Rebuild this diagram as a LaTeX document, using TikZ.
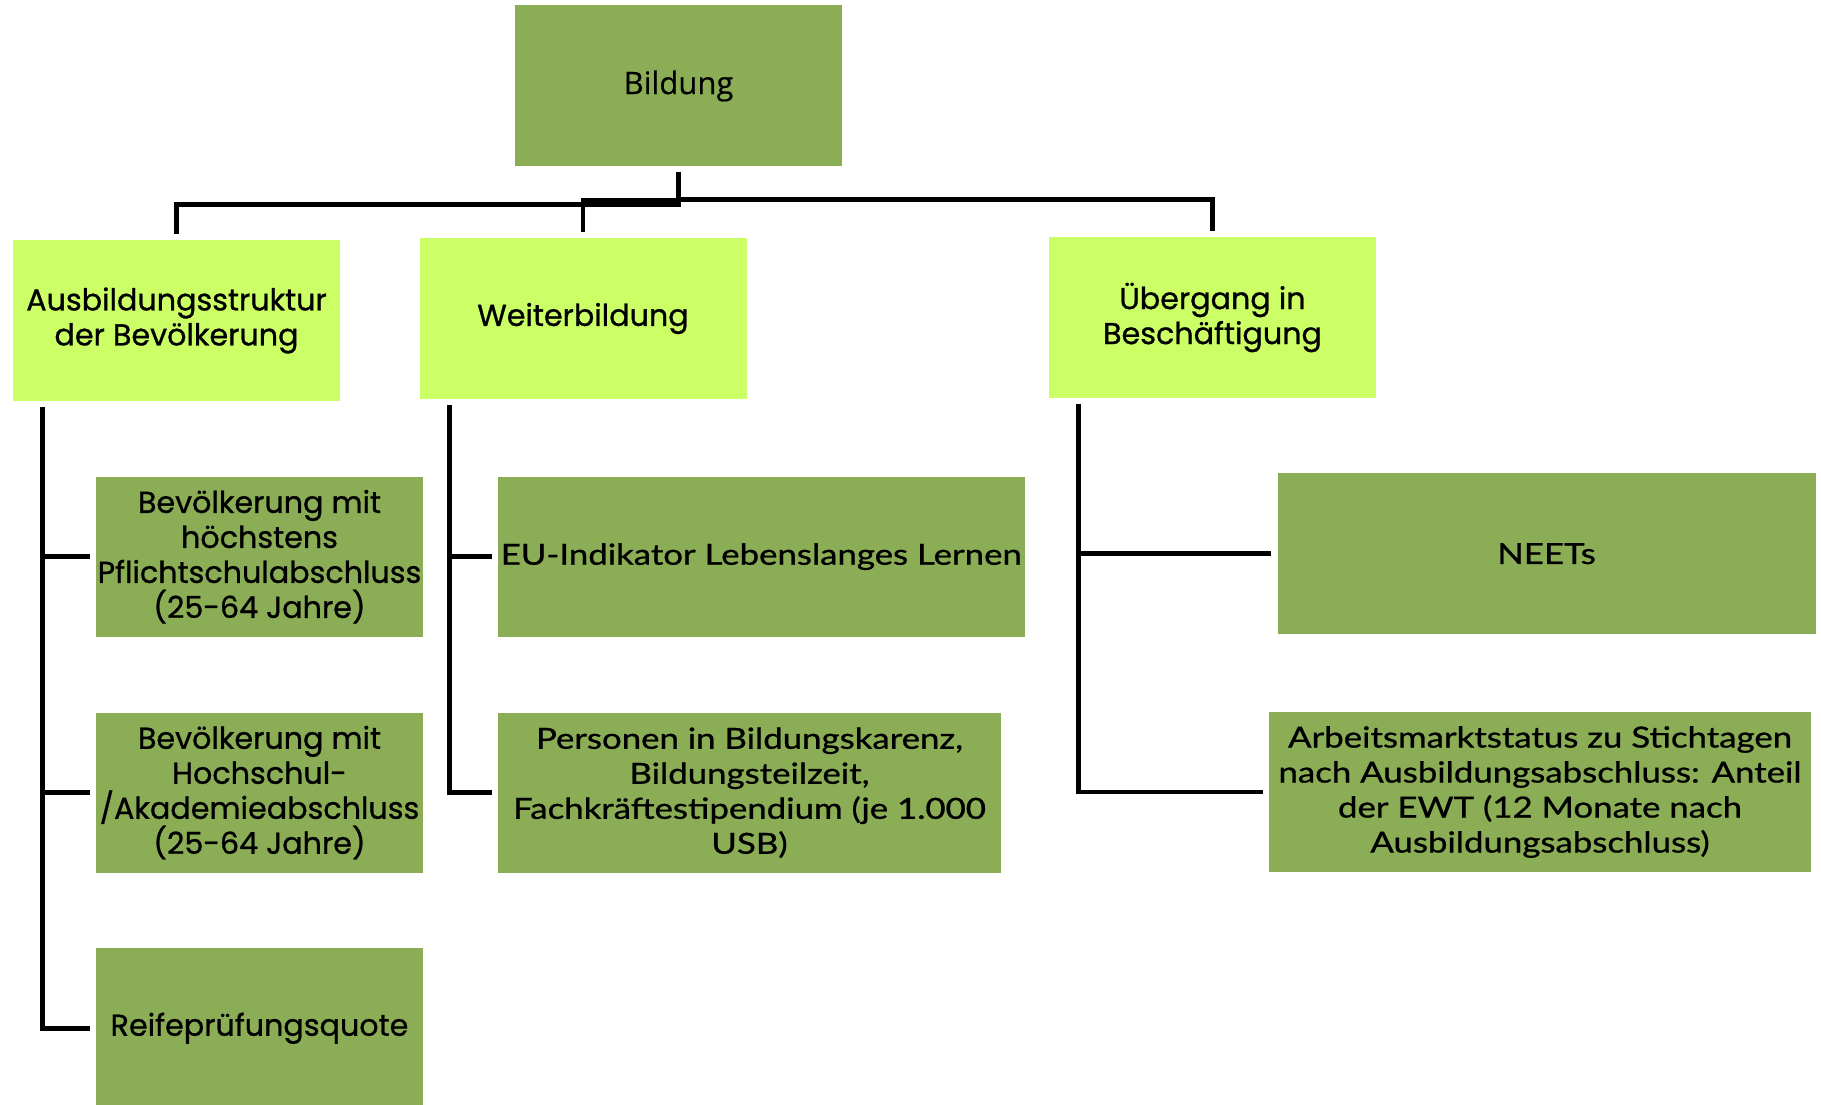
\documentclass[tikz,border=0pt]{standalone}
\usepackage{fontspec}
\setmainfont{Poppins}[FakeBold=0.9]
\newfontfamily\segoe{Open Sans}[FakeBold=0.4]
\newfontfamily\narrowfont{Lato}[FakeStretch=1.2, FakeBold=0.9]
\usepackage{tikz}

\definecolor{olivebox}{HTML}{8BAD55}
\definecolor{limebox}{HTML}{CCFF66}

\tikzset{
  box/.style={fill=olivebox, minimum height=160pt, inner sep=0pt, align=center,
    font=\fontsize{30.2}{35}\selectfont},
  topbox/.style={box, fill=limebox, minimum width=327pt, minimum height=161pt},
  narrowbox/.style={box, font=\narrowfont\fontsize{29}{35}\selectfont},
  conn/.style={line width=4.8pt}
}

\begin{document}
\begin{tikzpicture}[x=1pt, y=-1pt]
  \useasboundingbox (0,0) rectangle (1821,1105);

  % top of the tree
  \node[box, minimum width=327pt, minimum height=161pt, font=\segoe\fontsize{31}{36}\selectfont]
    (bild) at (678.5,86) {Bildung};

  % areas
  \node[topbox] (ausb) at (176.5,320.5) {Ausbildungsstruktur\\der Bevölkerung};
  \node[topbox] (weit) at (583,318.5) {Weiterbildung};
  \node[topbox] (ueb) at (1212.5,317.5) {Übergang in\\Beschäftigung};

  % indicators
  \node[box, minimum width=327pt] (pa) at (259.5,556.7)
    {Bevölkerung mit\\höchstens\\Pflichtschulabschluss\\(25-64 Jahre)};
  \node[box, minimum width=327pt] (pb) at (259.5,792.6)
    {Bevölkerung mit\\Hochschul-\\/Akademieabschluss\\(25-64 Jahre)};
  \node[box, minimum width=327pt] (pc) at (259.5,1028.3) {Reifeprüfungsquote};
  \node[narrowbox, minimum width=526.5pt] (wa) at (761.25,556.7)
    {EU-Indikator Lebenslanges Lernen};
  \node[narrowbox, minimum width=503pt] (wb) at (749.5,792.7)
    {Personen in Bildungskarenz,\\Bildungsteilzeit,\\Fachkräftestipendium (je 1.000\\USB)};
  \node[narrowbox, minimum width=538pt, minimum height=161pt] (ua) at (1546.5,553.7) {NEETs};
  \node[narrowbox, minimum width=542pt] (ub) at (1540,792)
    {Arbeitsmarktstatus zu Stichtagen\\nach Ausbildungsabschluss: Anteil\\der EWT (12 Monate nach\\Ausbildungsabschluss)};

  % connectors from the top
  \draw[conn] ([yshift=-5pt]bild.south) -- ++(0,33) -| ([yshift=6pt]ausb.north);
  \draw[conn] ([yshift=-34pt]bild.south) -| ([yshift=6pt]weit.north);
  \draw[conn] ([yshift=-33pt]bild.south) -| ([yshift=6pt]ueb.north);

  % connectors to the indicators
  \foreach \parent/\kids/\last in {ausb/{pa,pb}/pc, weit/{wa}/wb, ueb/{ua}/ub} {
    \draw[conn] ([xshift=30pt,yshift=-6pt]\parent.south west) |- ([xshift=-6pt]\last.west);
    \foreach \kid in \kids
      \draw[conn] ([xshift=30pt]\parent.south west |- \kid.west) -- ([xshift=-6pt]\kid.west);
  }
\end{tikzpicture}
\end{document}
